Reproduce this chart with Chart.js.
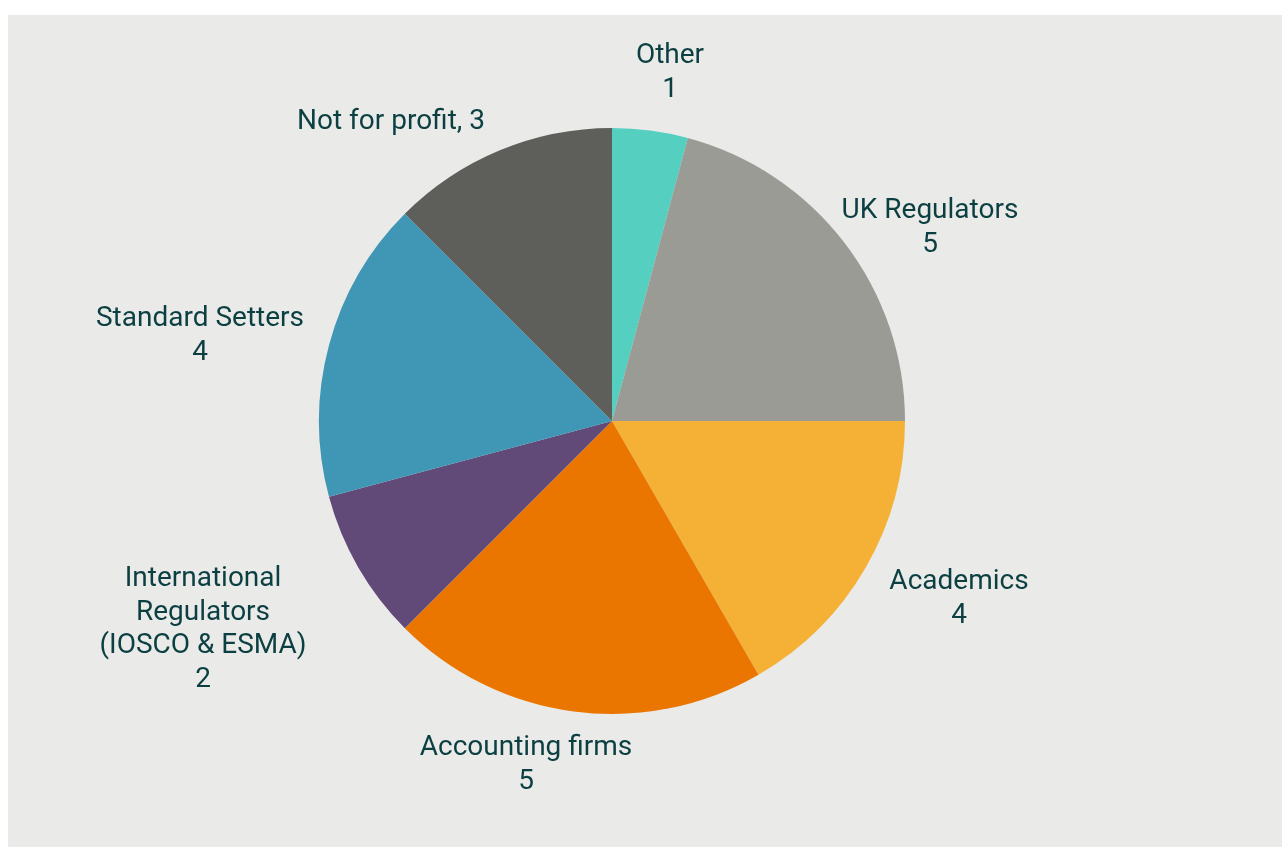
<!DOCTYPE html>
<html>
<head>
<meta charset="utf-8">
<script src="https://cdn.jsdelivr.net/npm/chart.js@4"></script>
<style>
  html, body { margin: 0; padding: 0; background: #ffffff; width: 1282px; height: 847px; overflow: hidden; }
  #panel { position: absolute; left: 8px; top: 15px; width: 1274px; height: 832px; background: #EAEAE8; }
  canvas { display: block; }
</style>
</head>
<body>
<div id="panel"><canvas id="c" width="1274" height="832"></canvas></div>
<script>
const categories = ["Other", "UK Regulators", "Academics", "Accounting firms", "International Regulators (IOSCO & ESMA)", "Standard Setters", "Not for profit"];
const values = [1, 5, 4, 5, 2, 4, 3];
const colors = ["#55CFC0", "#9B9B96", "#F4B135", "#EA7600", "#614A78", "#4096B5", "#5E5E5B"];
// how each category name is broken across lines in the label
const labelNameLines = [["Other"], ["UK Regulators"], ["Academics"], ["Accounting firms"], ["International", "Regulators", "(IOSCO & ESMA)"], ["Standard Setters"], ["Not for profit"]];
const inlineValue = [false, false, false, false, false, false, true];

// label anchor (centre of first line) relative to pie centre, in px
const labelAnchors = [[58, -365], [318, -210], [347, 161], [-86, 327], [-409, 158], [-412, -102], [-221, -299]];

const labelPlugin = {
  id: 'sliceLabels',
  afterDraw(chart) {
    const ctx = chart.ctx;
    const arc = chart.getDatasetMeta(0).data[0];
    const cx = arc.x, cy = arc.y;
    ctx.save();
    ctx.font = '28px Roboto';
    ctx.fillStyle = '#0B3F42';
    ctx.textAlign = 'center';
    ctx.textBaseline = 'middle';
    const lh = 33.5;
    categories.forEach((c, i) => {
      const lines = labelNameLines[i].slice();
      if (inlineValue[i]) {
        lines[lines.length - 1] += ', ' + values[i];
      } else {
        lines.push(String(values[i]));
      }
      const [dx, dy] = labelAnchors[i];
      lines.forEach((t, k) => ctx.fillText(t, cx + dx, cy + dy + k * lh));
    });
    ctx.restore();
  }
};

new Chart(document.getElementById('c'), {
  type: 'pie',
  data: {
    labels: categories,
    datasets: [{ data: values, backgroundColor: colors, borderWidth: 0 }]
  },
  options: {
    responsive: false,
    animation: false,
    layout: { padding: { top: 113, bottom: 133, left: 311, right: 377 } },
    plugins: { legend: { display: false }, tooltip: { enabled: false } }
  },
  plugins: [labelPlugin]
});
</script>
</body>
</html>
